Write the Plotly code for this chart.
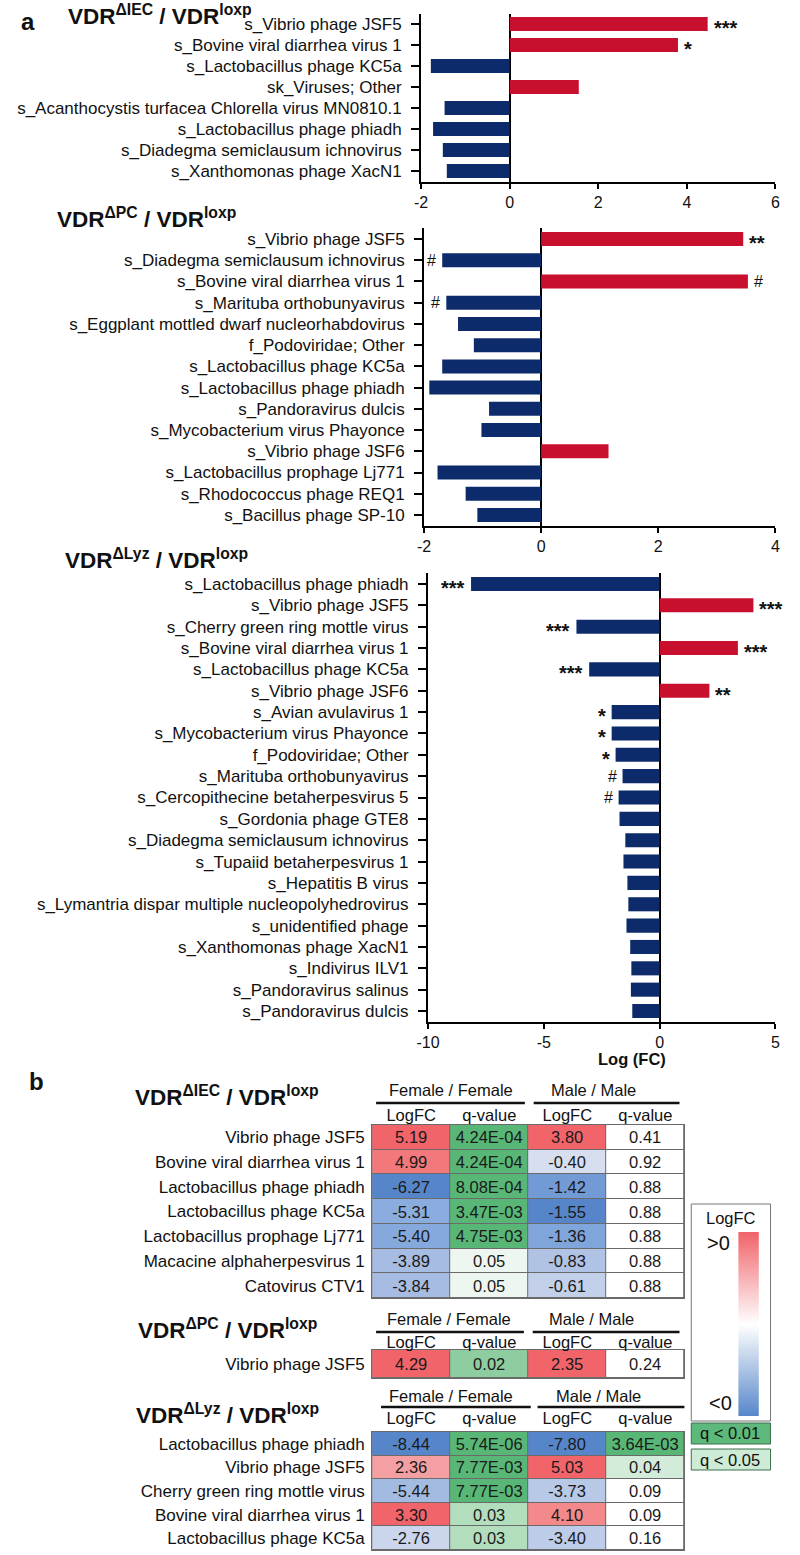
import plotly.graph_objects as go

W, H = 800, 1555
FONT = "Liberation Sans, Arial, Helvetica, sans-serif"
RED = "#C8102E"
NAVY = "#0D2B6B"

# ---------------- panel a data ----------------
iec_taxa = ["s_Vibrio phage JSF5", "s_Bovine viral diarrhea virus 1", "s_Lactobacillus phage KC5a",
            "sk_Viruses; Other", "s_Acanthocystis turfacea Chlorella virus MN0810.1",
            "s_Lactobacillus phage phiadh", "s_Diadegma semiclausum ichnovirus",
            "s_Xanthomonas phage XacN1"]
iec_logfc = [4.47, 3.80, -1.78, 1.56, -1.47, -1.73, -1.51, -1.42]
iec_sig = ["***", "*", "", "", "", "", "", ""]

pc_taxa = ["s_Vibrio phage JSF5", "s_Diadegma semiclausum ichnovirus", "s_Bovine viral diarrhea virus 1",
           "s_Marituba orthobunyavirus", "s_Eggplant mottled dwarf nucleorhabdovirus",
           "f_Podoviridae; Other", "s_Lactobacillus phage KC5a", "s_Lactobacillus phage phiadh",
           "s_Pandoravirus dulcis", "s_Mycobacterium virus Phayonce", "s_Vibrio phage JSF6",
           "s_Lactobacillus prophage Lj771", "s_Rhodococcus phage REQ1", "s_Bacillus phage SP-10"]
pc_logfc = [3.45, -1.69, 3.53, -1.62, -1.42, -1.15, -1.69, -1.91, -0.89, -1.02, 1.15, -1.77, -1.29, -1.09]
pc_sig = ["**", "#", "#", "#", "", "", "", "", "", "", "", "", "", ""]

lyz_taxa = ["s_Lactobacillus phage phiadh", "s_Vibrio phage JSF5", "s_Cherry green ring mottle virus",
            "s_Bovine viral diarrhea virus 1", "s_Lactobacillus phage KC5a", "s_Vibrio phage JSF6",
            "s_Avian avulavirus 1", "s_Mycobacterium virus Phayonce", "f_Podoviridae; Other",
            "s_Marituba orthobunyavirus", "s_Cercopithecine betaherpesvirus 5", "s_Gordonia phage GTE8",
            "s_Diadegma semiclausum ichnovirus", "s_Tupaiid betaherpesvirus 1", "s_Hepatitis B virus",
            "s_Lymantria dispar multiple nucleopolyhedrovirus", "s_unidentified phage",
            "s_Xanthomonas phage XacN1", "s_Indivirus ILV1", "s_Pandoravirus salinus",
            "s_Pandoravirus dulcis"]
lyz_logfc = [-8.14, 4.05, -3.59, 3.38, -3.04, 2.15, -2.07, -2.07, -1.90, -1.60, -1.77, -1.73,
             -1.48, -1.56, -1.39, -1.35, -1.43, -1.27, -1.22, -1.24, -1.18]
lyz_sig = ["***", "***", "***", "***", "***", "**", "*", "*", "*", "#", "#", "", "", "", "", "",
           "", "", "", "", ""]

# ---------------- panel b data ----------------
iec_rows = ["Vibrio phage JSF5", "Bovine viral diarrhea virus 1", "Lactobacillus phage phiadh",
            "Lactobacillus phage KC5a", "Lactobacillus prophage Lj771", "Macacine alphaherpesvirus 1",
            "Catovirus CTV1"]
iec_f_lfc = [5.19, 4.99, -6.27, -5.31, -5.40, -3.89, -3.84]
iec_f_q = ["4.24E-04", "4.24E-04", "8.08E-04", "3.47E-03", "4.75E-03", "0.05", "0.05"]
iec_m_lfc = [3.80, -0.40, -1.42, -1.55, -1.36, -0.83, -0.61]
iec_m_q = ["0.41", "0.92", "0.88", "0.88", "0.88", "0.88", "0.88"]

pc_rows = ["Vibrio phage JSF5"]
pc_f_lfc = [4.29]
pc_f_q = ["0.02"]
pc_m_lfc = [2.35]
pc_m_q = ["0.24"]

lyz_rows = ["Lactobacillus phage phiadh", "Vibrio phage JSF5", "Cherry green ring mottle virus",
            "Bovine viral diarrhea virus 1", "Lactobacillus phage KC5a"]
lyz_f_lfc = [-8.44, 2.36, -5.44, 3.30, -2.76]
lyz_f_q = ["5.74E-06", "7.77E-03", "7.77E-03", "0.03", "0.03"]
lyz_m_lfc = [-7.80, 5.03, -3.73, 4.10, -3.40]
lyz_m_q = ["3.64E-03", "0.04", "0.09", "0.09", "0.16"]

sub_headers = ["LogFC", "q-value", "LogFC", "q-value"]
legend_low, legend_high = "<0", ">0"

LFC_SCALE = [[0, "#5686C9"], [0.08, "#8CAEDF"], [0.2, "#A8BDE2"], [0.35, "#CFD9EE"],
             [0.5, "#FFFFFF"], [0.85, "#F4A3A6"], [0.9, "#F48B8E"], [0.98, "#F2797D"],
             [1, "#F0646A"]]
Q_SCALE = [[0, "#58B776"], [0.099, "#58B776"], [0.1, "#6CC087"], [0.2, "#8DCD9F"],
           [0.3, "#B2DEBE"], [0.4, "#D3ECDA"], [0.5, "#EEF7EF"], [0.501, "#FFFFFF"], [1, "#FFFFFF"]]


def pxx(x):
    return x / W


def pyy(y):
    return 1 - y / H


fig = go.Figure()
annotations = []
shapes = []
layout_axes = {}


def ann(text, x, y, size, bold=False, yanchor="middle"):
    if bold:
        text = "<b>" + text + "</b>"
    annotations.append(dict(text=text, x=pxx(x), y=pyy(y), xref="paper", yref="paper",
                            xanchor="center", yanchor=yanchor, showarrow=False,
                            font=dict(family=FONT, size=size, color="#111")))


def bar_panel(k, taxa, vals, sig, xr, tickvals, xdom, ydom):
    xa = "x" if k == 1 else f"x{k}"
    ya = "y" if k == 1 else f"y{k}"
    fig.add_trace(go.Bar(x=vals, y=taxa, orientation="h", xaxis=xa, yaxis=ya, width=0.66,
                         marker=dict(color=[RED if v > 0 else NAVY for v in vals], line=dict(width=0)),
                         showlegend=False, hoverinfo="x+y"))
    n = len(taxa)
    kx = "xaxis" if k == 1 else f"xaxis{k}"
    ky = "yaxis" if k == 1 else f"yaxis{k}"
    layout_axes[kx] = dict(domain=[pxx(xdom[0]), pxx(xdom[1])], anchor=ya, range=xr,
                           tickvals=tickvals, ticktext=[str(t) for t in tickvals],
                           ticks="outside", ticklen=5, tickwidth=2, tickcolor="black",
                           showline=True, linewidth=2, linecolor="black",
                           zeroline=True, zerolinecolor="black", zerolinewidth=2,
                           showgrid=False, fixedrange=True,
                           tickfont=dict(family=FONT, size=16, color="#111"))
    layout_axes[ky] = dict(domain=[pyy(ydom[1]), pyy(ydom[0])], anchor=xa, type="category",
                           range=[n - 0.5, -0.5], ticks="outside", ticklen=8, tickwidth=2,
                           tickcolor="black", showline=True, linewidth=2, linecolor="black",
                           showgrid=False, zeroline=False, fixedrange=True, ticklabelstandoff=6,
                           tickfont=dict(family=FONT, size=17, color="#111"))
    for t, v, s in zip(taxa, vals, sig):
        if not s:
            continue
        star = s.startswith("*")
        annotations.append(dict(text=("<b>" + s + "</b>") if star else s, x=v, y=t, xref=xa, yref=ya,
                                showarrow=False,
                                xanchor="left" if v > 0 else "right", yanchor="middle",
                                xshift=4 if v > 0 else -4, yshift=-4 if star else 0,
                                font=dict(family=FONT, size=20 if star else 16, color="#111")))


bar_panel(1, iec_taxa, iec_logfc, iec_sig, [-2, 6], [-2, 0, 2, 4, 6], (418, 780), (13.5, 181.5))
bar_panel(2, pc_taxa, pc_logfc, pc_sig, [-2, 4], [-2, 0, 2, 4], (421, 780), (228.4, 525.6))
bar_panel(3, lyz_taxa, lyz_logfc, lyz_sig, [-10, 5], [-10, -5, 0, 5], (425, 780), (573.3, 1021.7))

ann("a", 16, 22, 24, bold=True)
ann("VDR<sup>ΔIEC</sup> / VDR<sup>loxp</sup>", 151, 15, 22.5, bold=True)
ann("VDR<sup>ΔPC</sup> / VDR<sup>loxp</sup>", 137, 218, 22.5, bold=True)
ann("VDR<sup>ΔLyz</sup> / VDR<sup>loxp</sup>", 148, 559, 22.5, bold=True)
ann("Log (FC)", 633, 1059, 16.5, bold=True)

# ---------------- panel b tables ----------------


def norm_col(col):
    pmax = max([v for v in col if v > 0], default=1.0)
    nmax = max([-v for v in col if v < 0], default=1.0)
    return [v / pmax if v > 0 else v / nmax for v in col]


def table(k, rows, f_lfc, f_q, m_lfc, m_q, top, bot, hdr):
    xa, ya = f"x{k}", f"y{k}"
    n = len(rows)
    fz, mz = norm_col(f_lfc), norm_col(m_lfc)
    z_l = [[fz[i], None, mz[i], None] for i in range(n)]
    t_l = [[f"{f_lfc[i]:.2f}", "", f"{m_lfc[i]:.2f}", ""] for i in range(n)]
    z_q = [[None, float(f_q[i]), None, float(m_q[i])] for i in range(n)]
    t_q = [["", f_q[i], "", m_q[i]] for i in range(n)]
    common = dict(x=[0, 1, 2, 3], y=rows, xaxis=xa, yaxis=ya, showscale=False, xgap=1, ygap=1,
                  texttemplate="%{text}", hoverinfo="skip",
                  textfont=dict(family=FONT, size=16.5, color="#1a1a1a"))
    fig.add_trace(go.Heatmap(z=z_l, text=t_l, colorscale=LFC_SCALE, zmin=-1, zmax=1, **common))
    fig.add_trace(go.Heatmap(z=z_q, text=t_q, colorscale=Q_SCALE, zmin=0, zmax=0.1, **common))
    layout_axes[f"xaxis{k}"] = dict(domain=[pxx(368), pxx(687)], anchor=ya, range=[-0.5, 3.5],
                                    side="top", tickvals=[0, 1, 2, 3], ticktext=sub_headers,
                                    ticks="", showline=True, mirror=True, linecolor="#6a6a6a",
                                    linewidth=1, showgrid=False, zeroline=False, fixedrange=True,
                                    ticklabelstandoff=hdr["sub"],
                                    tickfont=dict(family=FONT, size=16.5, color="#111"))
    layout_axes[f"yaxis{k}"] = dict(domain=[pyy(bot), pyy(top)], anchor=xa, type="category",
                                    range=[n - 0.5, -0.5], ticks="", showline=True, mirror=True,
                                    linecolor="#6a6a6a", linewidth=1, showgrid=False,
                                    zeroline=False, fixedrange=True, ticklabelstandoff=3,
                                    tickfont=dict(family=FONT, size=17, color="#111"))
    shapes.append(dict(type="rect", xref=f"{xa} domain", yref=f"{ya} domain", x0=0, x1=1, y0=0,
                       y1=1, fillcolor="#6a6a6a", line=dict(width=0), layer="below"))
    ann("Female / Female", hdr["fx"], hdr["hy"], 16.5)
    ann("Male / Male", hdr["mx"], hdr["hy"], 16.5)
    for (x0, x1) in (hdr["fu"], hdr["mu"]):
        shapes.append(dict(type="line", xref="paper", yref="paper", x0=pxx(x0), x1=pxx(x1),
                           y0=pyy(hdr["uy"]), y1=pyy(hdr["uy"]), line=dict(color="#111", width=2.5)))
    ann(hdr["title"], 220, hdr["ty"], 22.5, bold=True)


table(4, iec_rows, iec_f_lfc, iec_f_q, iec_m_lfc, iec_m_q, 1125, 1298,
      dict(fx=449, mx=594, hy=1090, uy=1103, fu=(372, 524), mu=(533, 682), sub=-4,
           title="VDR<sup>ΔIEC</sup> / VDR<sup>loxp</sup>", ty=1096))
table(5, pc_rows, pc_f_lfc, pc_f_q, pc_m_lfc, pc_m_q, 1350, 1378,
      dict(fx=446, mx=592, hy=1319, uy=1332, fu=(372, 523), mu=(532, 682), sub=-6,
           title="VDR<sup>ΔPC</sup> / VDR<sup>loxp</sup>", ty=1329))
table(6, lyz_rows, lyz_f_lfc, lyz_f_q, lyz_m_lfc, lyz_m_q, 1432, 1550,
      dict(fx=449, mx=599, hy=1396, uy=1407, fu=(377, 530), mu=(537, 687), sub=0,
           title="VDR<sup>ΔLyz</sup> / VDR<sup>loxp</sup>", ty=1414))
ann("b", 25, 1081, 24, bold=True)

# ---------------- legend ----------------
fig.add_trace(go.Heatmap(z=[[-1], [0], [1]], x=[0], y=[0, 1, 2], xaxis="x7", yaxis="y7",
                         colorscale=[[0, "#5686C9"], [0.5, "#FFFFFF"], [1, "#F0646A"]],
                         zmin=-1, zmax=1, zsmooth="best", showscale=False, hoverinfo="skip"))
layout_axes["xaxis7"] = dict(domain=[pxx(742), pxx(763)], anchor="y7", range=[-0.5, 0.5],
                             visible=False, fixedrange=True)
layout_axes["yaxis7"] = dict(domain=[pyy(1416), pyy(1232)], anchor="x7", range=[0, 2],
                             visible=False, fixedrange=True)
shapes.append(dict(type="rect", xref="paper", yref="paper", x0=pxx(694), x1=pxx(775),
                   y0=pyy(1421), y1=pyy(1204), line=dict(color="#777", width=1)))
shapes.append(dict(type="rect", xref="paper", yref="paper", x0=pxx(694), x1=pxx(775),
                   y0=pyy(1444), y1=pyy(1423), fillcolor="#5DB97B",
                   line=dict(color="#3f6f4c", width=1)))
shapes.append(dict(type="rect", xref="paper", yref="paper", x0=pxx(694), x1=pxx(775),
                   y0=pyy(1470), y1=pyy(1449), fillcolor="#CDEBD5",
                   line=dict(color="#3f6f4c", width=1)))
ann("LogFC", 735, 1218, 16.5)
ann(legend_high, 722, 1243, 20)
ann(legend_low, 724, 1403, 20)
ann("q &lt; 0.01", 734, 1433, 16.5)
ann("q &lt; 0.05", 734, 1460, 16.5)

fig.update_layout(width=W, height=H, autosize=False, margin=dict(l=0, r=0, t=0, b=0),
                  paper_bgcolor="white", plot_bgcolor="white", showlegend=False,
                  font=dict(family=FONT, color="#111"),
                  annotations=annotations, shapes=shapes, **layout_axes)
fig.write_html("out.html", config={"displayModeBar": False},
               post_script="document.body.style.margin='0px';")
